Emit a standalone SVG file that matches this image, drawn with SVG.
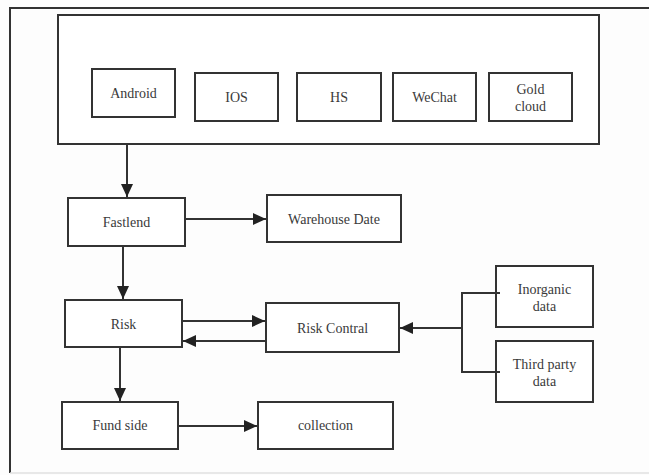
<svg xmlns="http://www.w3.org/2000/svg" width="649" height="475" viewBox="0 0 649 475">
  <style>
    .box { fill: #ffffff; stroke: #333333; stroke-width: 2; }
    .lbl { font-family: "Liberation Serif", "Times New Roman", serif; font-size: 14px; fill: #3a3a3a; text-anchor: middle; }
    .wire { fill: none; stroke: #333333; stroke-width: 2; }
    .arrow { marker-end: url(#head); }
  </style>
  <defs>
    <marker id="head" viewBox="0 0 13 12" refX="13" refY="6" markerWidth="13" markerHeight="12" markerUnits="userSpaceOnUse" orient="auto">
      <path d="M0,0 L13,6 L0,12 z" fill="#222222"/>
    </marker>
  </defs>

  <rect x="0" y="0" width="649" height="475" fill="#fdfdfd"/>

  <!-- page frame -->
  <g id="frame">
    <path d="M10,473 L10,8 L649,8" class="wire" stroke="#444444"/>
    <line x1="10" y1="473" x2="649" y2="473" stroke="#e0e0e0" stroke-width="1.5"/>
  </g>

  <!-- client channels -->
  <g id="channels">
    <rect class="box" x="58" y="15" width="541" height="129"/>
  </g>
  <g id="android">
    <rect class="box" x="92" y="69" width="83" height="48"/>
    <text class="lbl" x="133.5" y="98">Android</text>
  </g>
  <g id="ios">
    <rect class="box" x="195" y="73" width="83" height="48"/>
    <text class="lbl" x="236.5" y="102">IOS</text>
  </g>
  <g id="hs">
    <rect class="box" x="297" y="73" width="84" height="48"/>
    <text class="lbl" x="339" y="102">HS</text>
  </g>
  <g id="wechat">
    <rect class="box" x="393" y="73" width="83" height="48"/>
    <text class="lbl" x="434.5" y="102">WeChat</text>
  </g>
  <g id="goldcloud">
    <rect class="box" x="489" y="73" width="83" height="48"/>
    <text class="lbl" x="530.5" y="94">Gold</text>
    <text class="lbl" x="530.5" y="111">cloud</text>
  </g>

  <!-- processing chain -->
  <g id="fastlend">
    <rect class="box" x="68" y="198" width="117" height="48"/>
    <text class="lbl" x="126.5" y="227">Fastlend</text>
  </g>
  <g id="warehouse">
    <rect class="box" x="267" y="195" width="134" height="47"/>
    <text class="lbl" x="334" y="224">Warehouse Date</text>
  </g>
  <g id="risk">
    <rect class="box" x="65" y="300" width="117" height="47"/>
    <text class="lbl" x="123.5" y="329">Risk</text>
  </g>
  <g id="riskcontral">
    <rect class="box" x="266" y="303" width="133" height="49"/>
    <text class="lbl" x="332.5" y="333">Risk Contral</text>
  </g>
  <g id="inorganic">
    <rect class="box" x="496" y="266" width="97" height="61"/>
    <text class="lbl" x="544.5" y="294">Inorganic</text>
    <text class="lbl" x="544.5" y="311">data</text>
  </g>
  <g id="thirdparty">
    <rect class="box" x="496" y="341" width="97" height="61"/>
    <text class="lbl" x="544.5" y="369">Third party</text>
    <text class="lbl" x="544.5" y="386">data</text>
  </g>
  <g id="fundside">
    <rect class="box" x="62" y="402" width="116" height="47"/>
    <text class="lbl" x="120" y="430">Fund side</text>
  </g>
  <g id="collection">
    <rect class="box" x="258" y="402" width="135" height="47"/>
    <text class="lbl" x="325.5" y="430">collection</text>
  </g>

  <!-- connectors -->
  <g id="connectors">
    <line class="wire arrow" x1="127" y1="144" x2="127" y2="197"/>
    <line class="wire arrow" x1="185" y1="219" x2="266" y2="219"/>
    <line class="wire arrow" x1="123" y1="246" x2="123" y2="299"/>
    <line class="wire arrow" x1="182" y1="321" x2="265" y2="321"/>
    <line class="wire arrow" x1="266" y1="341" x2="183" y2="341"/>
    <line class="wire arrow" x1="120" y1="347" x2="120" y2="401"/>
    <line class="wire arrow" x1="178" y1="426" x2="257" y2="426"/>
    <path class="wire" d="M500,293 L462,293 L462,372 L500,372"/>
    <line class="wire arrow" x1="462" y1="328" x2="400" y2="328"/>
  </g>
</svg>
